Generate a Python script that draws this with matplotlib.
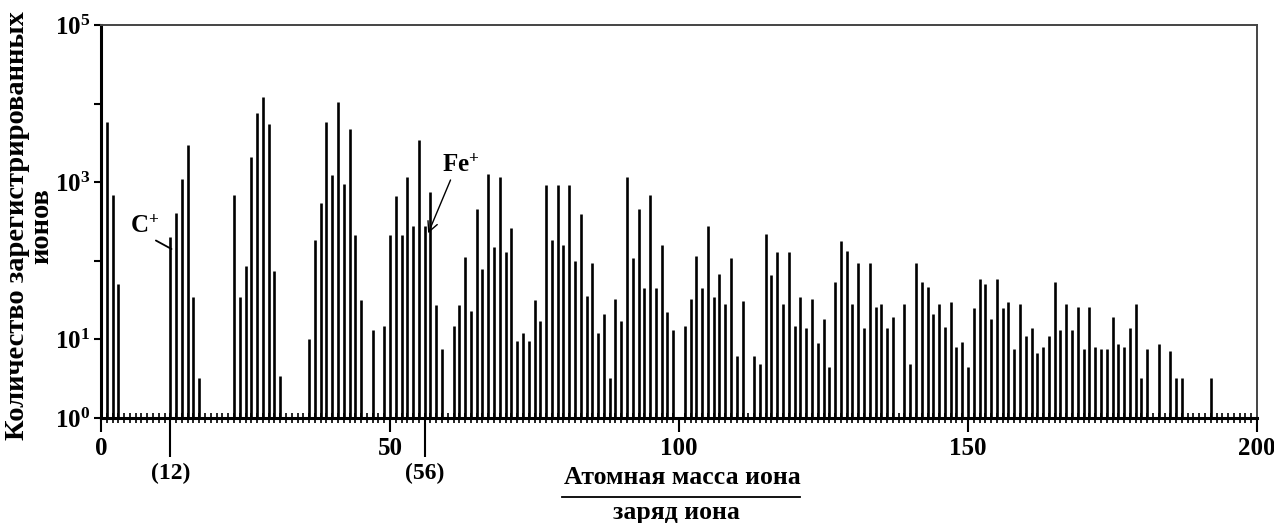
import matplotlib
matplotlib.use('Agg')
import matplotlib.pyplot as plt
from matplotlib.ticker import MultipleLocator, NullLocator
from matplotlib.lines import Line2D

# fonts: Times-like serif, bold everywhere
plt.rcParams['font.family'] = ['Liberation Serif', 'DejaVu Serif']
plt.rcParams['font.weight'] = 'bold'
plt.rcParams['mathtext.fontset'] = 'custom'
plt.rcParams['mathtext.rm'] = 'Liberation Serif:bold'
plt.rcParams['mathtext.it'] = 'Liberation Serif:bold'
plt.rcParams['mathtext.bf'] = 'Liberation Serif:bold'

# ion mass / charge and number of registered ions
masses = [1, 2, 3, 12, 13, 14, 15, 16, 17,
          23, 24, 25, 26, 27, 28, 29, 30, 31,
          36, 37, 38, 39, 40, 41, 42, 43, 44, 45, 47, 49,
          50, 51, 52, 53, 54, 55, 56, 57, 58, 59, 61, 62, 63, 64, 65, 66, 67, 68, 69,
          70, 71, 72, 73, 74, 75, 76, 77, 78, 79, 80, 81, 82, 83, 84, 85, 86, 87, 88, 89,
          90, 91, 92, 93, 94, 95, 96, 97, 98, 99, 101, 102, 103, 104, 105, 106, 107, 108, 109,
          110, 111, 113, 114, 115, 116, 117, 118, 119, 120, 121, 122, 123, 124, 125, 126, 127, 128, 129,
          130, 131, 132, 133, 134, 135, 136, 137, 139, 140, 141, 142, 143, 144, 145, 146, 147, 148, 149,
          150, 151, 152, 153, 154, 155, 156, 157, 158, 159, 160, 161, 162, 163, 164, 165, 166, 167, 168, 169,
          170, 171, 172, 173, 174, 175, 176, 177, 178, 179, 180, 181, 183, 185, 186, 187, 192]
counts = [5900, 680, 50, 200, 410, 1100, 2950, 35, 3.2,
          680, 35, 87, 2100, 7600, 12300, 5500, 74, 3.4,
          10, 186, 540, 5900, 1230, 10500, 950, 4700, 215, 32, 13, 15,
          215, 660, 215, 1150, 275, 3400, 275, 760, 27, 7.6, 15, 27, 112, 23, 460, 78, 1260, 150, 1170,
          130, 265, 9.5, 12, 9.5, 32, 17, 910, 186, 910, 160, 910, 100, 390, 36, 93, 12, 21, 3.2, 33,
          17, 1150, 107, 460, 45, 680, 45, 160, 22, 13, 15, 33, 115, 45, 275, 35, 68, 28, 110,
          6.2, 31, 6.2, 4.8, 220, 66, 130, 28, 130, 15, 35, 14, 33, 9.1, 18, 4.5, 54, 180, 132,
          28, 93, 14, 93, 26, 28, 14, 19.5, 28, 4.8, 93, 54, 47, 21, 28, 14.5, 30, 8, 9.3,
          4.5, 25, 58, 50, 18, 58, 25, 30, 7.6, 28, 11, 14, 6.8, 8.1, 11, 54, 13, 28, 13, 26,
          7.6, 26, 8, 7.6, 7.6, 19.5, 8.7, 8, 14, 28, 3.2, 7.6, 8.7, 7.1, 3.2, 3.2, 3.2]

ytick_vals = [1, 10, 100, 1000, 10000, 100000]
ytick_labels = ['$10^{0}$', '$10^{1}$', '', '$10^{3}$', '', '$10^{5}$']
xtick_vals = [0, 50, 100, 150, 200]
marked = [12, 56]
marked_labels = ['(12)', '(56)']


def main():
    W, H = 1274, 523
    fig = plt.figure(figsize=(W / 100, H / 100), dpi=100)
    ax = fig.add_axes([101 / W, 1 - 418 / H, 1156 / W, 393 / H])

    ax.vlines(masses, 1, counts, color='black', linewidth=1.9)

    ax.set_yscale('log')
    ax.set_ylim(1, 1e5)
    ax.set_xlim(0, 200)
    ax.set_yticks(ytick_vals, labels=ytick_labels)
    ax.yaxis.set_minor_locator(NullLocator())
    ax.tick_params(axis='y', direction='out', length=5, width=1.5, labelsize=18, pad=3)

    ax.set_xticks(xtick_vals)
    ax.xaxis.set_minor_locator(MultipleLocator(1))
    ax.tick_params(axis='x', which='major', direction='out', length=10, width=1.5,
                   labelsize=18, pad=4)
    ax.tick_params(axis='x', which='minor', direction='inout', length=7, width=1.2)

    for s in ['left', 'bottom']:
        ax.spines[s].set_linewidth(2.2)
    for s in ['top', 'right']:
        ax.spines[s].set_linewidth(1.4)
        ax.spines[s].set_color('#444444')

    # long marks for carbon and iron
    sec = ax.secondary_xaxis('bottom')
    sec.set_xticks(marked, labels=marked_labels)
    sec.tick_params(direction='out', length=28, width=1.5, labelsize=17, pad=4)
    sec.spines['bottom'].set_visible(False)

    ax.annotate('$\\mathrm{C}^{+}$', xy=(12.2, 10 ** 2.15), xytext=(7.6, 10 ** 2.44),
                fontsize=18, ha='center', va='center',
                arrowprops=dict(arrowstyle='-', color='black', lw=1.3, shrinkA=0, shrinkB=0,
                                relpos=(0.7, 0.0)))
    ax.annotate('$\\mathrm{Fe}^{+}$', xy=(56.6, 10 ** 2.35), xytext=(62.3, 10 ** 3.21),
                fontsize=18, ha='center', va='center',
                arrowprops=dict(arrowstyle='->', color='black', lw=1.0, shrinkA=0, shrinkB=0,
                                relpos=(0.25, 0.0)))

    fig.text(30 / W, 1 - 226 / H, 'Количество зарегистрированных\nионов',
             rotation=90, ha='center', va='center', fontsize=20.5, fontweight='bold',
             linespacing=0.95)

    # x label as a fraction
    fig.text(682 / W, 1 - 478 / H, 'Атомная масса иона', ha='center', va='center',
             fontsize=18.5, fontweight='bold')
    fig.add_artist(Line2D([562 / W, 800 / W], [1 - 497 / H, 1 - 497 / H],
                          color='black', lw=1.3, transform=fig.transFigure))
    fig.text(676 / W, 1 - 512 / H, 'заряд иона', ha='center', va='center',
             fontsize=18.5, fontweight='bold')

    fig.savefig('out.png', dpi=100)


if __name__ == '__main__':
    main()
